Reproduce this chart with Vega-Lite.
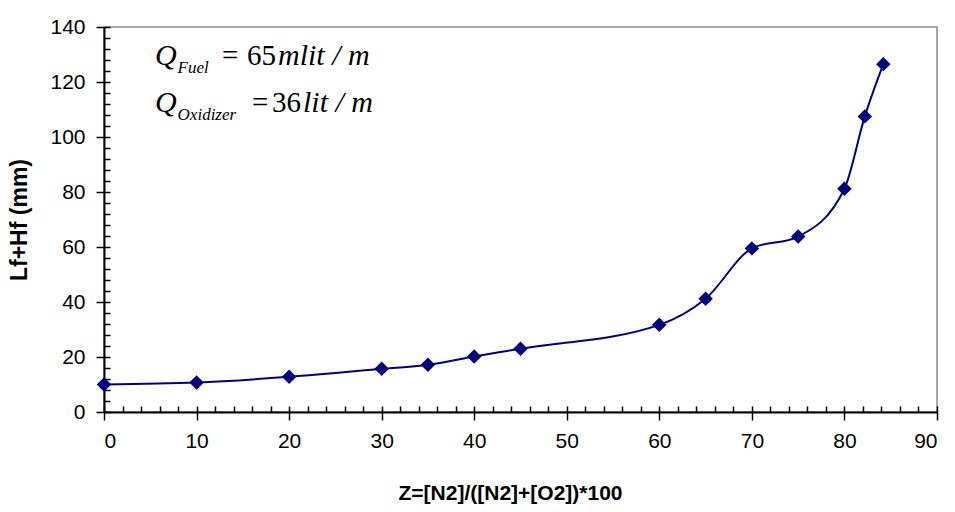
{
  "$schema": "https://vega.github.io/schema/vega-lite/v6.json",
  "width": 833,
  "height": 385,
  "autosize": "none",
  "padding": {"left": 104, "top": 27, "right": 18, "bottom": 100},
  "background": "white",
  "config": {
    "view": {"stroke": "#8c8c8c", "strokeWidth": 1.5},
    "font": "Liberation Sans",
    "axis": {"grid": false, "labelColor": "black", "titleColor": "black", "tickColor": "black", "domainColor": "black"}
  },
  "datasets": {
    "pts": [
      {"z": 0, "h": 10.0},
      {"z": 10, "h": 10.7},
      {"z": 20, "h": 12.8},
      {"z": 30, "h": 15.7},
      {"z": 35, "h": 17.2},
      {"z": 40, "h": 20.2},
      {"z": 45, "h": 23.0},
      {"z": 60, "h": 31.7},
      {"z": 65, "h": 41.2},
      {"z": 70, "h": 59.5},
      {"z": 75, "h": 63.8},
      {"z": 80, "h": 81.2},
      {"z": 82.2, "h": 107.5},
      {"z": 84.2, "h": 126.5}
    ],
    "notes": [
      {"x": 5.51, "y": 126.2, "t": "Q", "k": "bi"},
      {"x": 7.95, "y": 123.4, "t": "Fuel", "k": "sub"},
      {"x": 12.75, "y": 126.2, "t": "=", "k": "b"},
      {"x": 15.45, "y": 126.2, "t": "65", "k": "b"},
      {"x": 18.8, "y": 126.2, "t": "mlit / m", "k": "bi"},
      {"x": 5.51, "y": 109.1, "t": "Q", "k": "bi"},
      {"x": 7.95, "y": 106.3, "t": "Oxidizer", "k": "sub"},
      {"x": 15.99, "y": 109.1, "t": "=", "k": "b"},
      {"x": 18.15, "y": 109.1, "t": "36", "k": "b"},
      {"x": 21.5, "y": 109.1, "t": "lit / m", "k": "bi"}
    ]
  },
  "layer": [
    {
      "data": {"name": "pts"},
      "mark": {"type": "line", "color": "#000080", "strokeWidth": 2, "interpolate": "monotone"},
      "encoding": {
        "x": {"field": "z", "type": "quantitative", "scale": {"domain": [0, 90], "nice": false},
          "axis": {"orient": "bottom", "values": [0,2,4,6,8,10,12,14,16,18,20,22,24,26,28,30,32,34,36,38,40,42,44,46,48,50,52,54,56,58,60,62,64,66,68,70,72,74,76,78,80,82,84,86,88,90],
            "tickSize": -6, "tickWidth": 1.5, "labels": false, "domain": false, "title": null}},
        "y": {"field": "h", "type": "quantitative", "scale": {"domain": [0, 140], "nice": false},
          "axis": {"orient": "left", "values": [0,4,8,12,16,20,24,28,32,36,40,44,48,52,56,60,64,68,72,76,80,84,88,92,96,100,104,108,112,116,120,124,128,132,136,140],
            "tickSize": -6, "tickWidth": 1.5, "labels": false, "domain": false, "title": null}}
      }
    },
    {
      "data": {"name": "pts"},
      "mark": {"type": "point", "shape": "diamond", "filled": true, "color": "#000080", "size": 210, "opacity": 1},
      "encoding": {
        "x": {"field": "z", "type": "quantitative", "scale": {"domain": [0, 90], "nice": false},
          "axis": {"orient": "bottom", "values": [0,10,20,30,40,50,60,70,80,90], "tickSize": 8, "tickWidth": 1.5, "domainWidth": 2,
            "labelFontSize": 21, "labelPadding": 10, "title": "Z=[N2]/([N2]+[O2])*100", "titleFontSize": 21, "titleFontWeight": "bold", "titlePadding": 31, "titleX": 406}},
        "y": {"field": "h", "type": "quantitative", "scale": {"domain": [0, 140], "nice": false},
          "axis": {"orient": "left", "values": [0,20,40,60,80,100,120,140], "tickSize": 8, "tickWidth": 1.5, "domainWidth": 2,
            "labelFontSize": 21, "labelPadding": 11, "title": "Lf+Hf (mm)", "titleFontSize": 23, "titleFontWeight": "bold", "titlePadding": 18}}
      }
    },
    {
      "data": {"name": "notes"},
      "transform": [{"filter": "datum.k === 'bi'"}],
      "mark": {"type": "text", "font": "Liberation Serif", "fontStyle": "italic", "fontSize": 30, "align": "left", "baseline": "alphabetic", "color": "black"},
      "encoding": {
        "x": {"field": "x", "type": "quantitative", "scale": {"domain": [0, 90], "nice": false}, "axis": null},
        "y": {"field": "y", "type": "quantitative", "scale": {"domain": [0, 140], "nice": false}, "axis": null},
        "text": {"field": "t"}
      }
    },
    {
      "data": {"name": "notes"},
      "transform": [{"filter": "datum.k === 'b'"}],
      "mark": {"type": "text", "font": "Liberation Serif", "fontSize": 29, "align": "left", "baseline": "alphabetic", "color": "black"},
      "encoding": {
        "x": {"field": "x", "type": "quantitative", "scale": {"domain": [0, 90], "nice": false}, "axis": null},
        "y": {"field": "y", "type": "quantitative", "scale": {"domain": [0, 140], "nice": false}, "axis": null},
        "text": {"field": "t"}
      }
    },
    {
      "data": {"name": "notes"},
      "transform": [{"filter": "datum.k === 'sub'"}],
      "mark": {"type": "text", "font": "Liberation Serif", "fontStyle": "italic", "fontSize": 17, "align": "left", "baseline": "alphabetic", "color": "black"},
      "encoding": {
        "x": {"field": "x", "type": "quantitative", "scale": {"domain": [0, 90], "nice": false}, "axis": null},
        "y": {"field": "y", "type": "quantitative", "scale": {"domain": [0, 140], "nice": false}, "axis": null},
        "text": {"field": "t"}
      }
    }
  ],
  "resolve": {"scale": {"x": "independent", "y": "independent"}, "axis": {"x": "independent", "y": "independent"}}
}
